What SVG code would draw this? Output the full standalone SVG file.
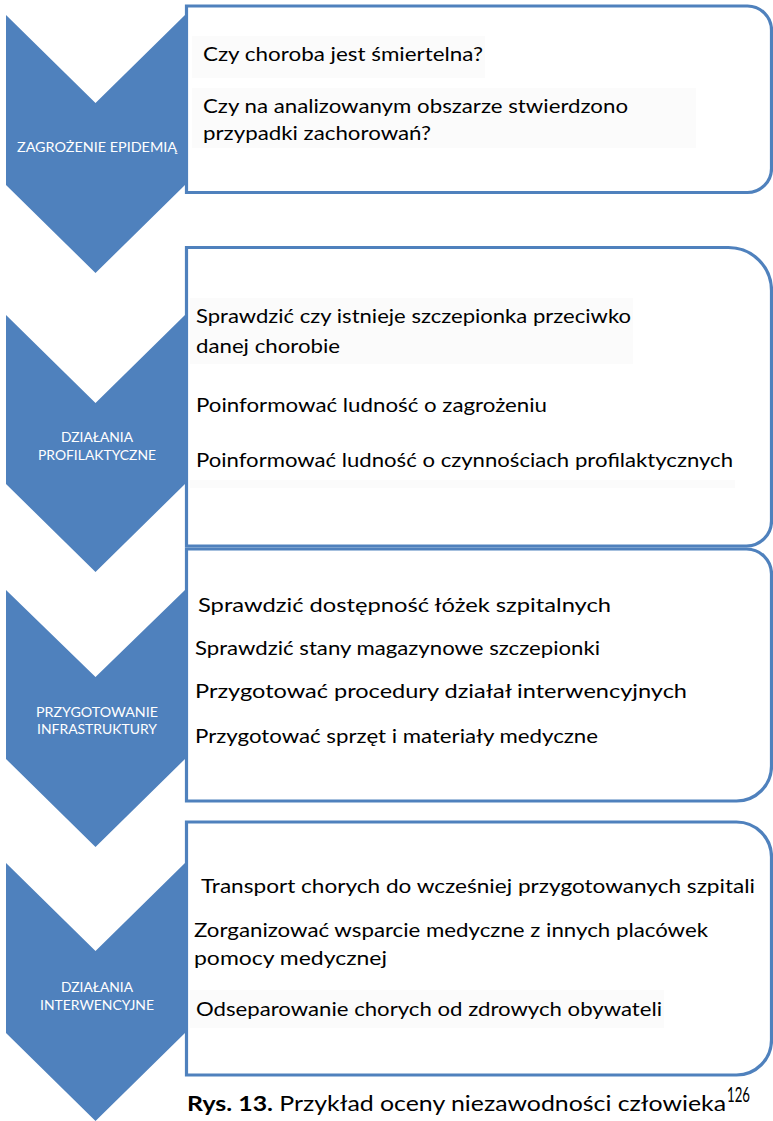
<svg xmlns="http://www.w3.org/2000/svg" width="773" height="1121" viewBox="0 0 773 1121">
  <style>
    .box { fill: #ffffff; stroke: #4f81bd; stroke-width: 3.2; }
    .chev { fill: #4f81bd; }
    .shade { fill: #fbfbfb; }
    .lbl { font-family: Lato, "Liberation Sans", sans-serif; font-size: 14px; fill: #ffffff; text-anchor: middle; }
    .item { font-family: Lato, "Liberation Sans", sans-serif; font-size: 20px; fill: #000000; }
    .cap { font-family: Lato, "Liberation Sans", sans-serif; font-size: 21px; fill: #000000; }
  </style>

  <!-- step content boxes: square left corners, rounded right corners -->
  <g id="boxes">
    <g id="box-1">
      <path class="box" d="M186.5,6 H747.5 A24,24 0 0 1 771.5,30 V168.5 A24,24 0 0 1 747.5,192.5 H186.5 Z"/>
      <rect class="shade" x="192" y="36" width="293" height="42"/>
      <rect class="shade" x="192" y="88" width="504" height="60"/>
      <text class="item" x="203" y="61" textLength="280" lengthAdjust="spacingAndGlyphs">Czy choroba jest śmiertelna?</text>
      <text class="item" x="203" y="113" textLength="425" lengthAdjust="spacingAndGlyphs">Czy na analizowanym obszarze stwierdzono</text>
      <text class="item" x="203" y="140" textLength="228" lengthAdjust="spacingAndGlyphs">przypadki zachorowań?</text>
    </g>
    <g id="box-2">
      <path class="box" d="M186.5,247.5 H728.5 A43,43 0 0 1 771.5,290.5 V521 A25,25 0 0 1 746.5,546 H186.5 Z"/>
      <rect class="shade" x="190" y="298" width="443" height="66"/>
      <rect class="shade" x="190" y="480" width="545" height="8"/>
      <text class="item" x="196" y="323" textLength="435" lengthAdjust="spacingAndGlyphs">Sprawdzić czy istnieje szczepionka przeciwko</text>
      <text class="item" x="196" y="353" textLength="144" lengthAdjust="spacingAndGlyphs">danej chorobie</text>
      <text class="item" x="196" y="412" textLength="351" lengthAdjust="spacingAndGlyphs">Poinformować ludność o zagrożeniu</text>
      <text class="item" x="196" y="467" textLength="537" lengthAdjust="spacingAndGlyphs">Poinformować ludność o czynnościach profilaktycznych</text>
    </g>
    <g id="box-3">
      <path class="box" d="M186.5,549 H746.5 A25,25 0 0 1 771.5,574 V766 A35,35 0 0 1 736.5,801 H186.5 Z"/>
      <text class="item" x="198" y="612" textLength="413" lengthAdjust="spacingAndGlyphs">Sprawdzić dostępność łóżek szpitalnych</text>
      <text class="item" x="195" y="655" textLength="405" lengthAdjust="spacingAndGlyphs">Sprawdzić stany magazynowe szczepionki</text>
      <text class="item" x="195" y="698" textLength="492" lengthAdjust="spacingAndGlyphs">Przygotować procedury działał interwencyjnych</text>
      <text class="item" x="195" y="743" textLength="403" lengthAdjust="spacingAndGlyphs">Przygotować sprzęt i materiały medyczne</text>
    </g>
    <g id="box-4">
      <path class="box" d="M186.5,822 H736.5 A35,35 0 0 1 771.5,857 V1040 A35,35 0 0 1 736.5,1075 H186.5 Z"/>
      <rect class="shade" x="190" y="990" width="474" height="38"/>
      <text class="item" x="201" y="893" textLength="554" lengthAdjust="spacingAndGlyphs">Transport chorych do wcześniej przygotowanych szpitali</text>
      <text class="item" x="194" y="937" textLength="514" lengthAdjust="spacingAndGlyphs">Zorganizować wsparcie medyczne z innych placówek</text>
      <text class="item" x="194" y="965" textLength="193" lengthAdjust="spacingAndGlyphs">pomocy medycznej</text>
      <text class="item" x="196" y="1016" textLength="466" lengthAdjust="spacingAndGlyphs">Odseparowanie chorych od zdrowych obywateli</text>
    </g>
  </g>

  <!-- chevron step markers -->
  <g id="steps">
    <g id="step-1">
      <path class="chev" d="M6,15 L95.5,103 L185,15 L185,185 L95.5,273 L6,185 Z"/>
      <text class="lbl" x="97" y="152" textLength="160" lengthAdjust="spacingAndGlyphs">ZAGROŻENIE EPIDEMIĄ</text>
    </g>
    <g id="step-2">
      <path class="chev" d="M6,315 L95.5,403 L185,315 L185,484 L95.5,572 L6,484 Z"/>
      <text class="lbl" x="97" y="442" textLength="72" lengthAdjust="spacingAndGlyphs">DZIAŁANIA</text>
      <text class="lbl" x="97" y="460" textLength="118" lengthAdjust="spacingAndGlyphs">PROFILAKTYCZNE</text>
    </g>
    <g id="step-3">
      <path class="chev" d="M6,590 L95.5,677 L185,590 L185,759 L95.5,847 L6,759 Z"/>
      <text class="lbl" x="97" y="717" textLength="122" lengthAdjust="spacingAndGlyphs">PRZYGOTOWANIE</text>
      <text class="lbl" x="97" y="734" textLength="120" lengthAdjust="spacingAndGlyphs">INFRASTRUKTURY</text>
    </g>
    <g id="step-4">
      <path class="chev" d="M6,863 L95.5,951 L185,863 L185,1033 L95.5,1121 L6,1033 Z"/>
      <text class="lbl" x="97" y="992" textLength="72" lengthAdjust="spacingAndGlyphs">DZIAŁANIA</text>
      <text class="lbl" x="97" y="1010" textLength="114" lengthAdjust="spacingAndGlyphs">INTERWENCYJNE</text>
    </g>
  </g>

  <!-- connectors: none, the chevrons chain the steps -->
  <g id="connectors"/>

  <!-- figure caption -->
  <g id="caption">
    <text class="cap" x="187" y="1111" textLength="539" lengthAdjust="spacingAndGlyphs"><tspan font-weight="bold">Rys. 13.</tspan> Przykład oceny niezawodności człowieka</text>
    <text class="cap" x="727" y="1102" font-size="13" textLength="23" lengthAdjust="spacingAndGlyphs">126</text>
  </g>
</svg>
